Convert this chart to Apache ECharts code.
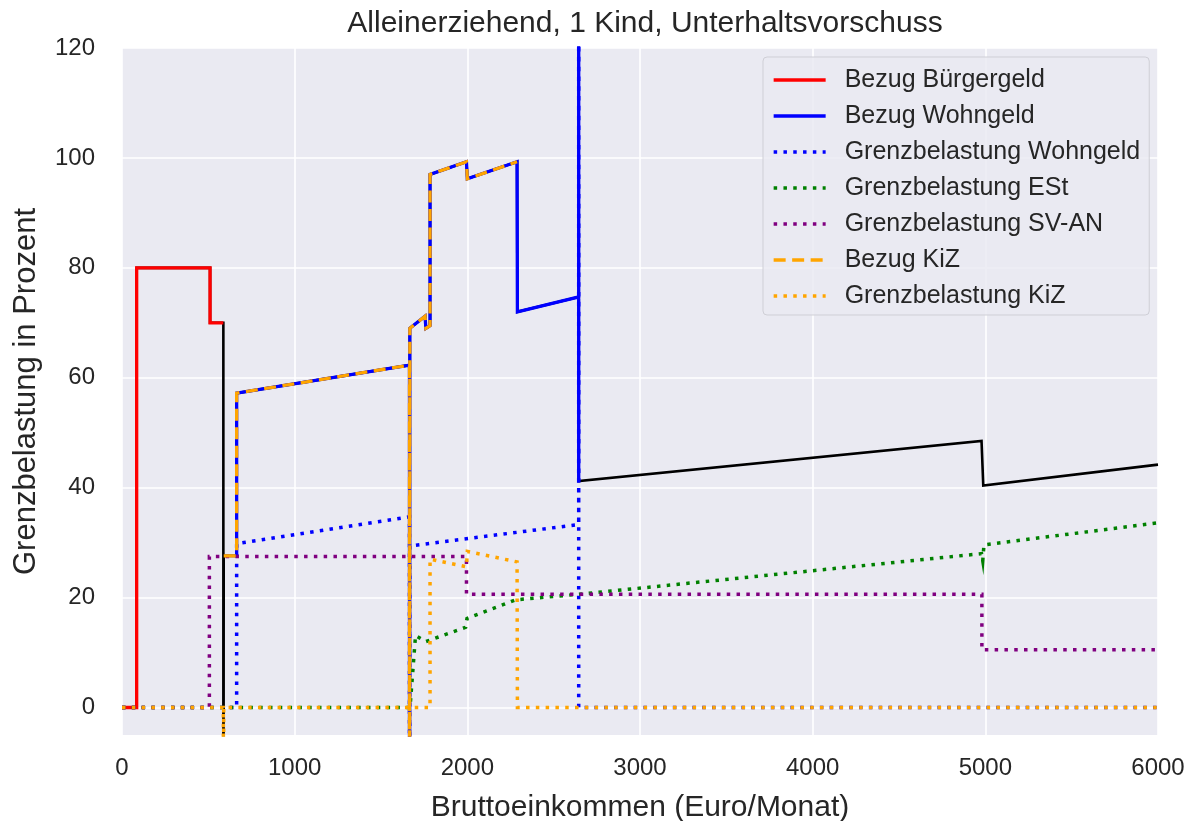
<!DOCTYPE html>
<html>
<head>
<meta charset="utf-8">
<script src="https://cdn.jsdelivr.net/npm/echarts@6/dist/echarts.min.js"></script>
<style>
html,body{margin:0;padding:0;background:#ffffff;}
#chart{width:1198px;height:821px;}
</style>
</head>
<body>
<div id="chart"></div>
<script>
// ---- data (Bruttoeinkommen in Euro/Monat, Grenzbelastung in Prozent) ----
const titleText = 'Alleinerziehend, 1 Kind, Unterhaltsvorschuss';
const xAxisName = 'Bruttoeinkommen (Euro/Monat)';
const yAxisName = 'Grenzbelastung in Prozent';
const xTicks = [0, 1000, 2000, 3000, 4000, 5000, 6000];
const yTicks = [0, 20, 40, 60, 80, 100, 120];

// total marginal burden (black, not in legend)
const gesamt = [[0,0],[85,0],[85,80],[510,80],[510,70],[587,70],[587,-100],[589,27.6],[664,27.6],[664,57.2],[1665,62.3],[1665,-100],[1667,69],[1755,71.2],[1760,69],[1784,69.5],[1784,97],[1995,99.3],[2000,96.2],[2288,99.3],[2290,72],[2645,74.7],[2645,200],[2645,41.2],[4978,48.5],[4988,40.4],[6000,44.2]];
const bezugBuergergeld = [[0,0],[85,0],[85,80],[510,80],[510,70],[587,70]];
const bezugWohngeld = [[664,27.6],[664,57.2],[1665,62.3],[1665,-100],[1667,69],[1755,71.2],[1760,69],[1784,69.5],[1784,97],[1995,99.3],[2000,96.2],[2288,99.3],[2290,72],[2645,74.7],[2645,200],[2645,41.2]];
const grenzWohngeld = [[0,0],[664,0],[664,29.8],[1665,34.7],[1665,-100],[1667,29.4],[2645,33.3],[2645,200],[2645,0],[6000,0]];
const grenzESt = [[0,0],[1668,0],[1700,13.1],[1760,12],[1990,14.6],[1998,16.2],[2280,19.6],[2645,20.6],[4978,28],[4985,26.7],[4992,29.6],[6000,33.6]];
const grenzSV = [[0,0],[506,0],[506,27.5],[1995,27.5],[1995,20.6],[4980,20.6],[4980,10.5],[6000,10.5]];
const bezugKiZ = [[589,27.6],[664,27.6],[664,57.2],[1665,62.3],[1665,-100],[1667,69],[1755,71.2],[1760,69],[1784,69.5],[1784,97],[1995,99.3],[2000,96.2],[2288,99.3]];
const grenzKiZ = [[0,0],[587,0],[587,-100],[589,0],[1784,0],[1784,27],[1995,25.6],[2000,28.4],[2288,26.5],[2290,0],[6000,0]];

const FONT = "'Liberation Sans', Arial, sans-serif";
const TXT = '#262626';
const DOT = [3.5, 6.3];
const DASH = [12, 6.5];

function mkLine(name, data, color, width, type, z) {
  return {
    name: name, type: 'line', data: data, showSymbol: false, symbol: 'none',
    clip: true, animation: false, z: z,
    lineStyle: { color: color, width: width, type: type, cap: 'butt', join: 'miter' },
    itemStyle: { color: color },
    emphasis: { disabled: true }
  };
}

const chart = echarts.init(document.getElementById('chart'), null, { renderer: 'canvas' });
chart.setOption({
  animation: false,
  backgroundColor: '#ffffff',
  textStyle: { fontFamily: FONT },
  title: {
    text: titleText, left: 640, top: 4, textAlign: 'center',
    textStyle: { fontFamily: FONT, fontSize: 30, fontWeight: 'normal', color: TXT }
  },
  grid: {
    left: 122, right: 40, top: 48, bottom: 86, show: true,
    backgroundColor: '#EAEAF2', borderWidth: 0, containLabel: false,
    outerBoundsMode: 'none'
  },
  legend: {
    left: 763, top: 57, orient: 'vertical',
    padding: [10, 9, 6, 9], itemGap: 10, itemWidth: 52, itemHeight: 14,
    backgroundColor: 'rgba(234,234,242,0.85)', borderColor: '#cfcfd6', borderWidth: 1, borderRadius: 4,
    itemStyle: { opacity: 0, borderWidth: 0 },
    lineStyle: { width: 3.3 },
    textStyle: { fontFamily: FONT, fontSize: 25, color: TXT, lineHeight: 26, padding: [0, 0, 0, 14] },
    data: ['Bezug Bürgergeld', 'Bezug Wohngeld', 'Grenzbelastung Wohngeld', 'Grenzbelastung ESt', 'Grenzbelastung SV-AN', 'Bezug KiZ', 'Grenzbelastung KiZ']
  },
  xAxis: {
    type: 'value', min: 0, max: 6000, interval: 1000,
    name: xAxisName, nameLocation: 'middle', nameGap: 58,
    nameTextStyle: { fontFamily: FONT, fontSize: 30, color: TXT },
    axisLine: { show: false }, axisTick: { show: false },
    axisLabel: { fontFamily: FONT, fontSize: 24, color: TXT, margin: 21, customValues: xTicks, formatter: function (v) { return String(v); } },
    splitLine: { show: true, lineStyle: { color: '#ffffff', width: 1.6 } }
  },
  yAxis: {
    type: 'value', min: -5, max: 120,
    name: yAxisName, nameLocation: 'middle', nameGap: 80, nameRotate: 90,
    nameTextStyle: { fontFamily: FONT, fontSize: 31, color: TXT },
    axisLine: { show: false },
    axisTick: { show: false, customValues: yTicks },
    axisLabel: { fontFamily: FONT, fontSize: 24, color: TXT, margin: 27, customValues: yTicks, formatter: function (v) { return String(v); } },
    splitLine: { show: true, lineStyle: { color: '#ffffff', width: 1.6 } }
  },
  series: [
    mkLine('Gesamt', gesamt, '#000000', 2.6, 'solid', 1),
    mkLine('Bezug Bürgergeld', bezugBuergergeld, '#ff0000', 3.3, 'solid', 2),
    mkLine('Bezug Wohngeld', bezugWohngeld, '#0000ff', 3.3, 'solid', 3),
    mkLine('Grenzbelastung Wohngeld', grenzWohngeld, '#0000ff', 3.5, DOT, 4),
    mkLine('Grenzbelastung ESt', grenzESt, '#008000', 3.5, DOT, 5),
    mkLine('Grenzbelastung SV-AN', grenzSV, '#800080', 3.5, DOT, 6),
    mkLine('Bezug KiZ', bezugKiZ, '#ffa500', 3.3, DASH, 7),
    mkLine('Grenzbelastung KiZ', grenzKiZ, '#ffa500', 3.5, DOT, 8)
  ]
});
</script>
</body>
</html>
